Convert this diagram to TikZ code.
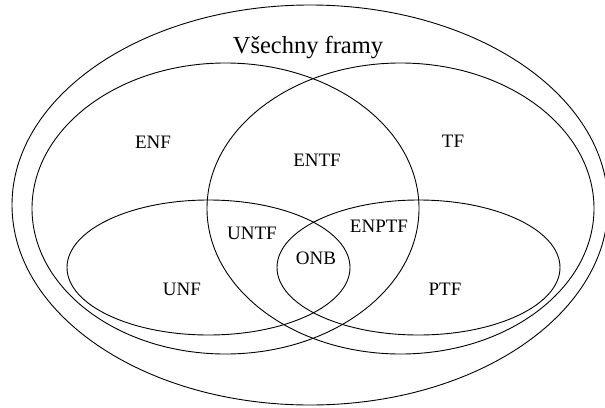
\documentclass[tikz,border=0pt]{standalone}
\usepackage{fontspec}
\setmainfont{Liberation Serif}
\begin{document}
\begin{tikzpicture}[x = 1pt, y = -1pt, line width = 0.9pt]
        \tikzset{lbl/.style = {inner sep = 0pt, font = \fontsize{19}{23}\selectfont}}
        \useasboundingbox (0, 0) rectangle (605, 407);
        \pgfmathsetmacro{\rbig}{193.5}
        \pgfmathsetmacro{\rsmall}{141.5}
        \draw (310, 205) ellipse (298pt and 200pt);
        \draw (225.5, 208.5) ellipse (\rbig pt and 145.5pt);
        \draw (400.5, 208.5) ellipse (\rbig pt and 145.5pt);
        \draw (208.5, 267.5) ellipse (\rsmall pt and 67.5pt);
        \draw (418.5, 267.5) ellipse (\rsmall pt and 67.5pt);
        \node [anchor = base, inner sep = 0pt, font = \fontsize{24.5}{29}\selectfont] (vse) at (308, 53) {Všechny framy};
        \node [lbl] (enf) at (153, 142) {ENF};
        \node [lbl] (tf) at (453, 141) {TF};
        \node [lbl] (entf) at (317, 160) {ENTF};
        \node [lbl] (untf) at (252, 233) {UNTF};
        \node [lbl] (enptf) at (379, 226) {ENPTF};
        \node [lbl] (onb) at (316, 258) {ONB};
        \node [lbl] (unf) at (182, 289) {UNF};
        \node [lbl] (ptf) at (445, 289) {PTF};
\end{tikzpicture}
\end{document}
